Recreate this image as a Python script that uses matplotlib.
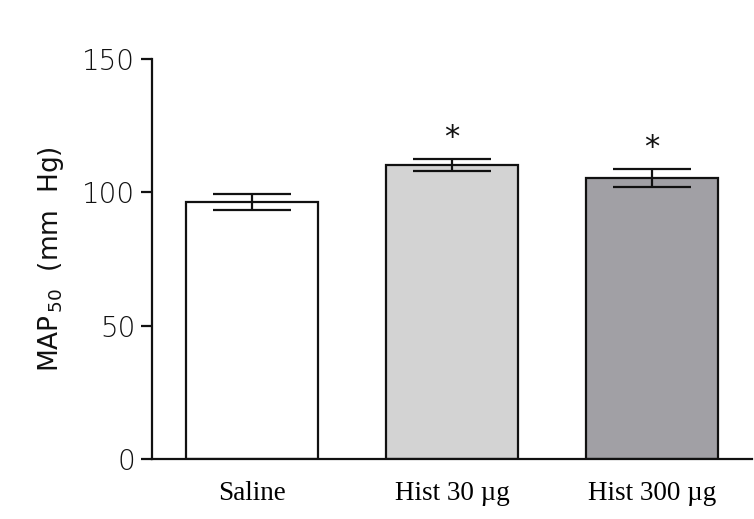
import matplotlib
matplotlib.use("Agg")
import matplotlib.pyplot as plt

# Data
groups = ["Saline", "Hist 30 \u00b5g", "Hist 300 \u00b5g"]
map50 = [96.5, 110.3, 105.3]
sem = [3.0, 2.2, 3.4]
significant = [False, True, True]
bar_colors = ["#ffffff", "#d3d3d3", "#a1a0a5"]
y_ticks = [0, 50, 100, 150]

fig = plt.figure(figsize=(7.54, 5.19), dpi=100)
ax = fig.add_axes([152 / 754, 60 / 519, 600 / 754, 400 / 519])

x = list(range(len(groups)))
ax.bar(x, map50, width=0.66, color=bar_colors, edgecolor="#111111",
       linewidth=1.6, zorder=2)
ax.errorbar(x, map50, yerr=sem, fmt="none", ecolor="#111111",
            elinewidth=1.6, capsize=28, capthick=1.6, zorder=3)

for xi, v, e, sig in zip(x, map50, sem, significant):
    if sig:
        ax.text(xi, v + e + 8, "*", ha="center", va="center",
                fontsize=22, family="DejaVu Sans", color="#111111")

ax.set_xlim(-0.5, 2.5)
ax.set_ylim(0, 150)
ax.set_yticks(y_ticks)
ax.set_xticks(x)
ax.set_xticklabels(groups, family="Liberation Serif", fontsize=19.5)
ax.tick_params(axis="x", length=0, pad=16)
ax.tick_params(axis="y", length=8, width=1.6, direction="out",
               labelsize=20, pad=4, colors="#111111")
for lbl in ax.get_yticklabels():
    lbl.set_family("DejaVu Sans")
    lbl.set_fontweight("light")

for s in ["top", "right"]:
    ax.spines[s].set_visible(False)
for s in ["left", "bottom"]:
    ax.spines[s].set_linewidth(1.6)
    ax.spines[s].set_color("#111111")

ax.set_ylabel("MAP$_{\\,50}$  (mm  Hg)", fontsize=19, family="DejaVu Sans",
              labelpad=12, color="#111111")

fig.savefig("out.png", dpi=100)
